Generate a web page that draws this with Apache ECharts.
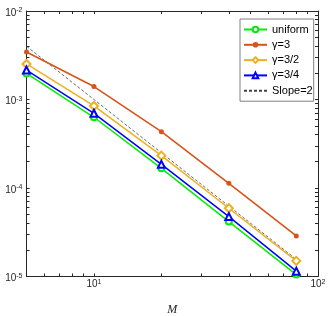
<!DOCTYPE html>
<html><head><meta charset="utf-8">
<script src="https://cdn.jsdelivr.net/npm/echarts@6/dist/echarts.min.js"></script>
<style>html,body{margin:0;padding:0;background:#fff}#c{width:332px;height:316px}</style>
</head><body><div id="c"></div>
<script>
const M = [5, 10, 20, 40, 80];
const uniform = [1.97e-3, 6.3e-4, 1.67e-4, 4.17e-5, 1.05e-5];
const gamma3 = [3.44e-3, 1.40e-3, 4.33e-4, 1.13e-4, 2.87e-5];
const gamma32 = [2.52e-3, 8.45e-4, 2.32e-4, 5.9e-5, 1.5e-5];
const gamma34 = [2.15e-3, 6.98e-4, 1.85e-4, 4.75e-5, 1.15e-5];
const slopeM = [5, 80];
const slope2 = [4.0e-3, 1.56e-5];
const xLabelTicks = [10, 100];
const yLabelTicks = [1e-5, 1e-4, 1e-3, 1e-2];

// Tick rulers: fine category scales spanning the log axes' exponent range,
// with a tick shown at each 1..9 x 10^d position.
function makeRuler(lo, hi) {
  const lgLo = Math.log10(lo), lgHi = Math.log10(hi);
  const n = Math.round((lgHi - lgLo) * 1000) + 1;
  const cats = [];
  for (let i = 0; i < n; i++) cats.push(String(i));
  const on = new Set();
  for (let d = Math.floor(lgLo); d <= Math.ceil(lgHi); d++) {
    for (let k = 1; k <= 9; k++) {
      const t = Math.log10(k) + d;
      if (t >= lgLo - 1e-9 && t <= lgHi + 1e-9) on.add(Math.round((t - lgLo) / (lgHi - lgLo) * (n - 1)));
    }
  }
  return {cats, on};
}
const xRuler = makeRuler(5, 100);
const yRuler = makeRuler(1e-5, 1e-2);

const axisColor = '#262626';
const labelFont = 'Liberation Sans Narrow, Liberation Sans';
const rich = {
  b: {fontSize: 10, fontFamily: labelFont, color: axisColor, lineHeight: 14, padding: [4, 0, 0, 0], verticalAlign: 'bottom'},
  s: {fontSize: 7, fontFamily: labelFont, color: axisColor, lineHeight: 8, padding: [3, 0, 0, 0], verticalAlign: 'top'}
};
function fmt(v) {
  const e = Math.round(Math.log10(v));
  return '{b|10}{s|' + e + '}';
}
function pair(xs, ys) { return xs.map((x, i) => [x, ys[i]]); }

const chart = echarts.init(document.getElementById('c'), null, {renderer: 'canvas'});
const line = {show: true, lineStyle: {color: axisColor, width: 1}};
function ruler(pos, r) {
  return {type: 'category', position: pos, offset: -3, data: r.cats, boundaryGap: false,
    splitLine: {show: false}, axisLine: {show: false}, axisLabel: {show: false},
    axisTick: {show: true, inside: false, length: 3, interval: (i) => r.on.has(i),
      lineStyle: {color: axisColor, width: 1}}};
}
chart.setOption({
  animation: false,
  grid: {left: 26.5, right: 14, top: 11, bottom: 39.5, outerBoundsMode: 'none'},
  xAxis: [
    {type: 'log', logBase: 10, min: 5, max: 100, position: 'bottom', splitLine: {show: false}, axisLine: line,
      axisTick: {show: false},
      name: 'M', nameLocation: 'middle', nameGap: 27,
      nameTextStyle: {fontFamily: 'Liberation Serif', fontStyle: 'italic', fontSize: 12, color: axisColor},
      axisLabel: {show: true, customValues: xLabelTicks, formatter: fmt, rich: rich, margin: -1}},
    {type: 'log', logBase: 10, min: 5, max: 100, position: 'top', splitLine: {show: false}, axisLine: line,
      axisTick: {show: false}, axisLabel: {show: false}},
    ruler('bottom', xRuler),
    ruler('top', xRuler)
  ],
  yAxis: [
    {type: 'log', logBase: 10, min: 1e-5, max: 1e-2, position: 'left', splitLine: {show: false}, axisLine: line,
      axisTick: {show: false},
      axisLabel: {show: true, customValues: yLabelTicks, formatter: fmt, rich: rich, margin: 4}},
    {type: 'log', logBase: 10, min: 1e-5, max: 1e-2, position: 'right', splitLine: {show: false}, axisLine: line,
      axisTick: {show: false}, axisLabel: {show: false}},
    ruler('left', yRuler),
    ruler('right', yRuler)
  ],
  legend: {
    orient: 'vertical', left: 240, top: 19, padding: [5, 1, 5, 3],
    backgroundColor: '#fff', borderColor: '#808080', borderWidth: 1,
    itemWidth: 23, itemHeight: 7, itemGap: 4.3,
    textStyle: {fontFamily: 'Liberation Sans', fontSize: 11, color: '#000'},
    data: ['uniform', 'γ=3', 'γ=3/2', 'γ=3/4', {name: 'Slope=2', itemStyle: {opacity: 0}}]
  },
  series: [
    {name: 'uniform', type: 'line', data: pair(M, uniform), symbol: 'emptyCircle', symbolSize: 6,
      lineStyle: {color: '#00ee00', width: 1.5}, itemStyle: {color: '#00ee00', borderWidth: 1.3}, z: 3},
    {name: 'γ=3', type: 'line', data: pair(M, gamma3), symbol: 'circle', symbolSize: 5,
      lineStyle: {color: '#D95319', width: 1.6}, itemStyle: {color: '#D95319'}, z: 3},
    {name: 'γ=3/2', type: 'line', data: pair(M, gamma32), symbol: 'emptyDiamond', symbolSize: 8,
      lineStyle: {color: '#EDB120', width: 1.5}, itemStyle: {color: '#EDB120', borderWidth: 1.3}, z: 3},
    {name: 'γ=3/4', type: 'line', data: pair(M, gamma34), symbol: 'emptyTriangle', symbolSize: 7,
      lineStyle: {color: '#0000ff', width: 1.5}, itemStyle: {color: '#0000ff', borderWidth: 1.3}, z: 4},
    {name: 'Slope=2', type: 'line', data: pair(slopeM, slope2), symbol: 'none',
      lineStyle: {color: '#444', width: 0.8, type: [3, 2]}, itemStyle: {color: '#444'}, z: 2}
  ]
});
</script></body></html>
